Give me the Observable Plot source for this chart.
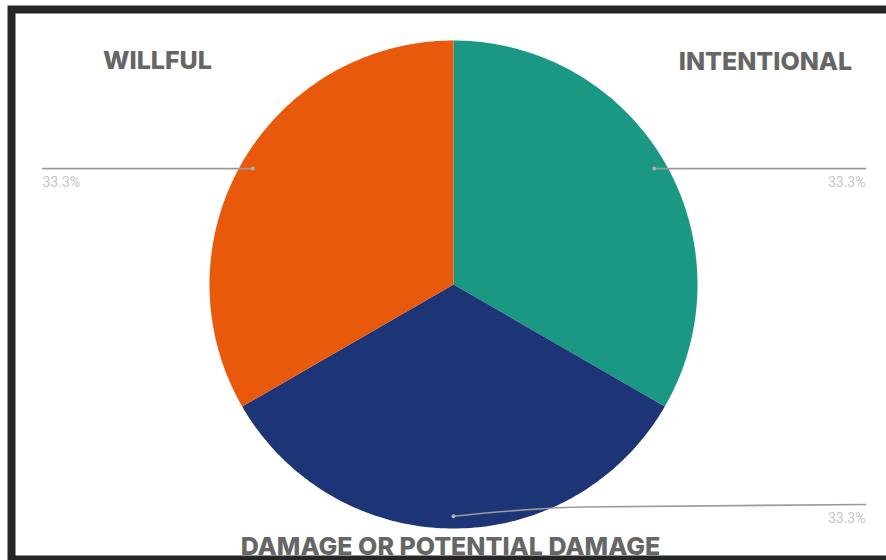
<!DOCTYPE html>
<html>
<head>
<meta charset="utf-8">
<script src="https://cdn.jsdelivr.net/npm/d3@7"></script>
<script src="https://cdn.jsdelivr.net/npm/@observablehq/plot@0.6"></script>
<style>
  html, body { margin: 0; padding: 0; background: #fff; overflow: hidden; }
</style>
</head>
<body>
<div id="chart"></div>
<script>
// ---- data ----
const categories = ["INTENTIONAL", "DAMAGE OR POTENTIAL DAMAGE", "WILLFUL"];
const values = [1, 1, 1];
const colors = ["#1b9884", "#1d3576", "#e8590c"];

// ---- layout ----
const W = 886, H = 560;
const cx = 453, cy = 284, R = 244;
const labelPos = [[765, 61], [450, 546], [157, 60]];
const leaderEndX = {right: 865, left: 42};
const bottomLeaderY = 505;

const total = d3.sum(values);
const arcs = d3.pie().sort(null).value(d => d)(values);
const fmt = d3.format(".1%");

const slicePts = [];
arcs.forEach((a, i) => {
  slicePts.push({x: cx, y: cy, k: i});
  const n = 120;
  for (let j = 0; j <= n; j++) {
    const t = a.startAngle + (a.endAngle - a.startAngle) * j / n;
    slicePts.push({x: cx + R * Math.sin(t), y: cy - R * Math.cos(t), k: i});
  }
});

const leaderPts = [], dots = [], pctR = [], pctL = [];
arcs.forEach((a, i) => {
  const m = (a.startAngle + a.endAngle) / 2;
  const dx = cx + 0.95 * R * Math.sin(m), dy = cy - 0.95 * R * Math.cos(m);
  const right = Math.sin(m) >= -1e-9;
  const ex = right ? leaderEndX.right : leaderEndX.left;
  dots.push({x: dx, y: dy});
  const t = fmt(values[i] / total);
  if (Math.abs(Math.sin(m)) < 0.2) {
    leaderPts.push({x: dx, y: dy, k: i});
    leaderPts.push({x: dx + 127, y: bottomLeaderY + 1.5, k: i});
    leaderPts.push({x: ex, y: bottomLeaderY - 1, k: i});
    pctR.push({x: ex, y: bottomLeaderY + 13, t});
  } else {
    leaderPts.push({x: dx, y: dy, k: i});
    leaderPts.push({x: ex, y: dy, k: i});
    (right ? pctR : pctL).push({x: ex, y: dy + 14, t});
  }
});

const labels = categories.map((c, i) => ({x: labelPos[i][0], y: labelPos[i][1], t: c}));
const pctStyle = {x: "x", y: "y", text: "t", fill: "#c4c4c4", fontSize: 14, fontFamily: "Roboto, sans-serif"};

const plot = Plot.plot({
  width: W, height: H,
  margin: 0,
  style: {background: "#fff", overflow: "hidden"},
  x: {domain: [0, W], range: [0, W], axis: null},
  y: {domain: [0, H], range: [0, H], axis: null},
  marks: [
    Plot.frame({stroke: "#262626", strokeWidth: 8, insetLeft: 11, insetTop: 9, insetRight: -20, insetBottom: 1}),
    Plot.line(slicePts, {x: "x", y: "y", z: "k", fill: d => colors[d.k], stroke: null, curve: "linear-closed"}),
    Plot.line(leaderPts, {x: "x", y: "y", z: "k", stroke: "#9a9a9a", strokeWidth: 1.6, curve: "monotone-x"}),
    Plot.dot(dots, {x: "x", y: "y", r: 2, fill: "#b0b0b0", stroke: null}),
    Plot.text(pctR, {...pctStyle, textAnchor: "end"}),
    Plot.text(pctL, {...pctStyle, textAnchor: "start"}),
    Plot.text(labels, {x: "x", y: "y", text: "t", fill: "#666666", fontSize: 25, fontWeight: 800, fontFamily: "Inter, 'Open Sans', sans-serif"})
  ]
});
document.getElementById("chart").appendChild(plot);
</script>
</body>
</html>
